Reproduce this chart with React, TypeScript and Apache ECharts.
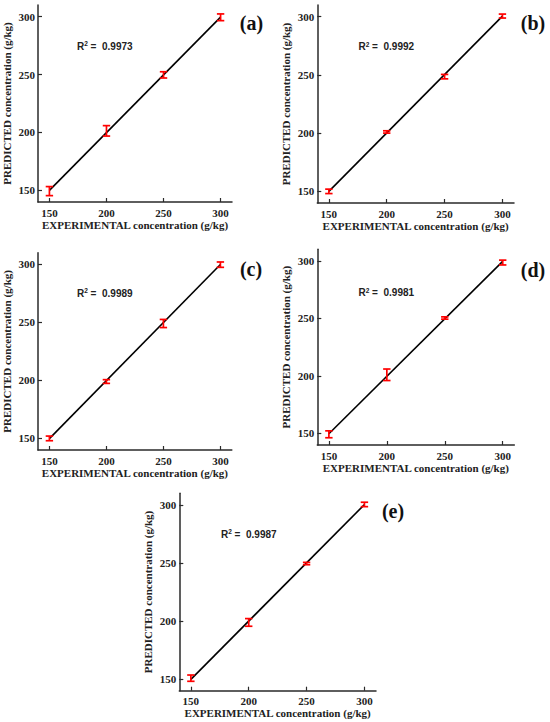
import React, { useEffect, useRef } from "react";
import * as echarts from "echarts";

// ---- data ----
const xValues = [150, 200, 250, 300];
const tickValues = [150, 200, 250, 300];
const panelLabels = ["(a)", "(b)", "(c)", "(d)", "(e)"];
const r2Values = ["0.9973", "0.9992", "0.9989", "0.9981", "0.9987"];

const meanA = [149.4, 201.4, 249.7, 299.4];
const errA = [3.9, 4.5, 2.7, 2.9];
const meanB = [150.0, 201.0, 248.5, 300.5];
const errB = [1.9, 1.0, 1.9, 1.7];
const meanC = [150.0, 199.0, 249.0, 299.7];
const errC = [2.0, 1.6, 3.5, 2.3];
const meanD = [149.3, 201.0, 250.3, 298.5];
const errD = [3.0, 5.0, 1.0, 2.1];
const meanE = [150.8, 198.8, 249.5, 300.4];
const errE = [2.7, 3.3, 1.0, 1.9];

const fitX = [150, 300];
const fitA = [150.0, 299.5];
const fitB = [150.0, 300.5];
const fitC = [149.8, 299.8];
const fitD = [149.8, 299.5];
const fitE = [149.8, 300.3];

const means = [meanA, meanB, meanC, meanD, meanE];
const errs = [errA, errB, errC, errD, errE];
const fits = [fitA, fitB, fitC, fitD, fitE];

// ---- layout (pixels) ----
const grids = [
  { left: 34.5, top: 5, width: 197.5, height: 197 },
  { left: 317.3, top: 5, width: 196.7, height: 198 },
  { left: 34.3, top: 252.7, width: 197.5, height: 197.3 },
  { left: 317.3, top: 249.3, width: 197, height: 195.7 },
  { left: 179.3, top: 493.3, width: 196.7, height: 197.4 },
];
const labelPos = [
  [251.5, 23], [533, 22.7], [251, 269.3], [533, 270], [393, 510.7],
];
const r2Pos = [
  [77, 46], [358.5, 46.7], [77, 293.3], [358.5, 292.7], [221, 534.3],
];

const serif = "'Liberation Serif', 'Times New Roman', serif";
const sans = "'Liberation Sans', Arial, sans-serif";

export default function App() {
  const ref = useRef<HTMLDivElement>(null);
  useEffect(() => {
    if (!ref.current) return;
    const chart = echarts.init(ref.current, undefined, { renderer: "svg" });
    const axisCommon = {
      type: "value",
      min: 140,
      max: 310,
      axisLine: { show: true, onZero: false, lineStyle: { color: "#2a2a2a", width: 1.5 } },
      axisTick: { show: true, inside: true, length: 4, customValues: tickValues, lineStyle: { color: "#2a2a2a", width: 1.2 } },
      axisLabel: { customValues: tickValues, fontFamily: serif, fontWeight: "bold", fontSize: 11, color: "#222" },
      splitLine: { show: false },
      nameLocation: "middle",
      nameTextStyle: { fontFamily: serif, fontWeight: "bold", fontSize: 11, color: "#222" },
    };
    const xAxis = grids.map((_, i) => ({
      ...axisCommon,
      gridIndex: i,
      name: "EXPERIMENTAL concentration (g/kg)",
      nameGap: 17,
      axisLabel: { ...axisCommon.axisLabel, margin: 5 },
    }));
    const yAxis = grids.map((_, i) => ({
      ...axisCommon,
      gridIndex: i,
      name: "PREDICTED concentration (g/kg)",
      nameGap: 26,
      axisLabel: { ...axisCommon.axisLabel, margin: 3 },
    }));
    const series: any[] = [];
    grids.forEach((_, i) => {
      series.push({
        type: "line",
        xAxisIndex: i,
        yAxisIndex: i,
        data: fitX.map((x, k) => [x, fits[i][k]]),
        showSymbol: false,
        symbol: "none",
        lineStyle: { color: "#000", width: 1.6 },
        z: 2,
      });
      series.push({
        type: "custom",
        xAxisIndex: i,
        yAxisIndex: i,
        data: xValues.map((x, k) => [x, means[i][k] - errs[i][k], means[i][k] + errs[i][k], means[i][k]]),
        encode: { x: 0, y: [1, 2] },
        z: 3,
        renderItem: (params: any, api: any) => {
          const x = api.value(0);
          const lo = api.coord([x, api.value(1)]);
          const hi = api.coord([x, api.value(2)]);
          const hw = 3.7;
          const style = { stroke: "#ff0000", lineWidth: 1.7 };
          return {
            type: "group",
            children: [
              { type: "line", shape: { x1: lo[0], y1: lo[1], x2: hi[0], y2: hi[1] }, style },
              { type: "line", shape: { x1: lo[0] - hw, y1: lo[1], x2: lo[0] + hw, y2: lo[1] }, style },
              { type: "line", shape: { x1: hi[0] - hw, y1: hi[1], x2: hi[0] + hw, y2: hi[1] }, style },
            ],
          };
        },
      });
    });
    const graphic: any[] = [];
    panelLabels.forEach((t, i) => {
      graphic.push({
        type: "text",
        x: labelPos[i][0],
        y: labelPos[i][1],
        style: { text: t, fontFamily: serif, fontWeight: "bold", fontSize: 20, fill: "#111", align: "center", verticalAlign: "middle" },
      });
      graphic.push({
        type: "text",
        x: r2Pos[i][0],
        y: r2Pos[i][1],
        style: {
          text: "{a|R}{s|2}{a| =  " + r2Values[i] + "}",
          verticalAlign: "middle",
          rich: {
            a: { fontFamily: sans, fontWeight: "bold", fontSize: 10, lineHeight: 12, fill: "#222" },
            s: { fontFamily: sans, fontWeight: "bold", fontSize: 6.5, lineHeight: 12, fill: "#222", verticalAlign: "top" },
          },
        },
      });
    });
    chart.setOption({
      animation: false,
      backgroundColor: "#fff",
      grid: grids.map((g) => ({ ...g, containLabel: false })),
      xAxis,
      yAxis,
      series,
      graphic,
    });
    return () => chart.dispose();
  }, []);
  return <div ref={ref} style={{ position: "absolute", left: 0, top: 0, width: 550, height: 722 }} />;
}
